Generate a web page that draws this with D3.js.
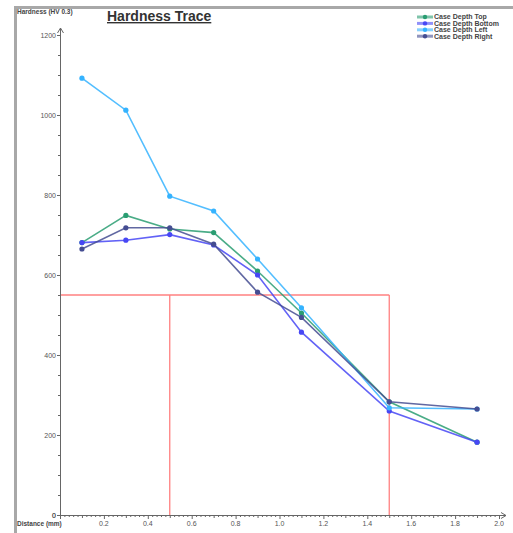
<!DOCTYPE html>
<meta charset="utf-8">
<style>
    body { margin: 0; background: #fff; }
    text { font-family: Arial, "Liberation Sans", sans-serif; }
    .tick-label { font-size: 7px; fill: #555; }
    .axis-title { font-size: 6.5px; font-weight: bold; fill: #444; }
    .legend text { font-size: 7px; font-weight: bold; fill: #444; }
</style>
<body>
<script src="https://d3js.org/d3.v7.min.js"></script>
<script>

    var width = 513,
        height = 533;

    var distance = [0.1, 0.3, 0.5, 0.7, 0.9, 1.1, 1.5, 1.9];
    var caseTop    = [681, 749, 715, 706, 610, 505, 283, 182];
    var caseBottom = [681, 687, 701, 675, 600, 457, 260, 182];
    var caseLeft   = [1092, 1012, 797, 760, 640, 518, 268, 265];
    var caseRight  = [665, 718, 718, 677, 557, 494, 283, 265];
    var seriesNames = ["Case Depth Top", "Case Depth Bottom", "Case Depth Left", "Case Depth Right"];
    var seriesColors = ["#2a9d72", "#4747f5", "#35b3ff", "#454d92"];

    // red limit box
    var limitHardness = 550,
        limitFrom = 0.5,
        limitTo = 1.5;

    var yTicks = [0, 200, 400, 600, 800, 1000, 1200];
    var xTicks = [0.2, 0.4, 0.6, 0.8, 1.0, 1.2, 1.4, 1.6, 1.8, 2.0];

    var series = [caseTop, caseBottom, caseLeft, caseRight];

    var x = d3.scaleLinear().domain([0, 2]).range([60, 499]);
    var y = d3.scaleLinear().domain([0, 1200]).range([515, 35]);

    var svg = d3.select("body").append("svg")
        .attr("width", width)
        .attr("height", height);

    // frame
    svg.append("path")
        .attr("d", "M15.5," + height + "V7.5H" + width)
        .attr("fill", "none")
        .attr("stroke", "#a8a8a8")
        .attr("stroke-width", 3);

    // title
    svg.append("text")
        .attr("x", 107).attr("y", 21)
        .attr("font-size", 14).attr("font-weight", "bold")
        .attr("fill", "#333")
        .attr("text-decoration", "underline")
        .text("Hardness Trace");

    // limit box
    var limit = svg.append("g")
        .attr("stroke", "#ff8080")
        .attr("stroke-width", 1.3)
        .attr("fill", "none");
    limit.append("line")
        .attr("x1", x(0)).attr("x2", x(limitTo))
        .attr("y1", y(limitHardness)).attr("y2", y(limitHardness));
    [limitFrom, limitTo].forEach(function (v) {
        limit.append("line")
            .attr("x1", x(v)).attr("x2", x(v))
            .attr("y1", y(limitHardness)).attr("y2", y(0));
    });

    // axes
    var axes = svg.append("g").attr("stroke", "#666").attr("fill", "none");
    axes.append("line")
        .attr("x1", x(0) + 0.5).attr("x2", x(0) + 0.5)
        .attr("y1", y(0)).attr("y2", 28);
    axes.append("path")
        .attr("d", "M" + (x(0) - 2.5) + ",33L" + (x(0) + 0.5) + ",28L" + (x(0) + 3.5) + ",33");
    axes.append("line")
        .attr("x1", x(0)).attr("x2", 506)
        .attr("y1", y(0) + 0.5).attr("y2", y(0) + 0.5);
    axes.append("path")
        .attr("d", "M501," + (y(0) - 2.5) + "L506," + (y(0) + 0.5) + "L501," + (y(0) + 3.5));

    // y ticks
    d3.range(0, 1201, 50).forEach(function (v) {
        var major = v % 200 === 0;
        axes.append("line")
            .attr("x1", x(0) - (major ? 3 : 2)).attr("x2", x(0))
            .attr("y1", y(v) + 0.5).attr("y2", y(v) + 0.5);
    });
    svg.selectAll(".ylab").data(yTicks).enter().append("text")
        .attr("class", "tick-label")
        .attr("x", x(0) - 4).attr("y", function (d) { return y(d) + 2.5; })
        .attr("text-anchor", "end")
        .text(function (d) { return d; });

    // x ticks
    d3.range(0, 101).forEach(function (i) {
        var v = i * 0.02;
        var len = i % 10 === 0 ? 4 : (i % 5 === 0 ? 3 : 2);
        axes.append("line")
            .attr("x1", x(v) + 0.5).attr("x2", x(v) + 0.5)
            .attr("y1", y(0)).attr("y2", y(0) + len);
    });
    svg.selectAll(".xlab").data(xTicks).enter().append("text")
        .attr("class", "tick-label")
        .attr("x", function (d) { return x(d); }).attr("y", 526)
        .attr("text-anchor", "middle")
        .text(function (d) { return d.toFixed(1); });

    svg.append("text").attr("class", "tick-label")
        .attr("x", x(0) - 4).attr("y", y(0) + 2.5)
        .attr("text-anchor", "end").text("0");

    svg.append("text").attr("class", "axis-title")
        .attr("x", 17).attr("y", 14)
        .text("Hardness (HV 0.3)");
    svg.append("text").attr("class", "axis-title")
        .attr("x", 17).attr("y", 526)
        .text("Distance (mm)");

    // series
    var line = d3.line()
        .x(function (d, i) { return x(distance[i]); })
        .y(function (d) { return y(d); });

    series.forEach(function (s, k) {
        var g = svg.append("g");
        g.append("path")
            .datum(s)
            .attr("d", line)
            .attr("fill", "none")
            .attr("stroke", seriesColors[k])
            .attr("stroke-opacity", 0.85)
            .attr("stroke-width", 1.6);
        g.selectAll("circle").data(s).enter().append("circle")
            .attr("cx", function (d, i) { return x(distance[i]); })
            .attr("cy", function (d) { return y(d); })
            .attr("r", 2.6)
            .attr("fill", seriesColors[k]);
    });

    // legend
    var legend = svg.append("g").attr("class", "legend");
    seriesNames.forEach(function (name, k) {
        var ly = 17 + k * 6.4;
        legend.append("line")
            .attr("x1", 417).attr("x2", 433)
            .attr("y1", ly).attr("y2", ly)
            .attr("stroke", seriesColors[k])
            .attr("stroke-opacity", 0.6)
            .attr("stroke-width", 3);
        legend.append("circle")
            .attr("cx", 425).attr("cy", ly).attr("r", 2.2)
            .attr("fill", seriesColors[k]);
        legend.append("text")
            .attr("x", 434).attr("y", ly + 2.4)
            .text(name);
    });

</script>
</body>
